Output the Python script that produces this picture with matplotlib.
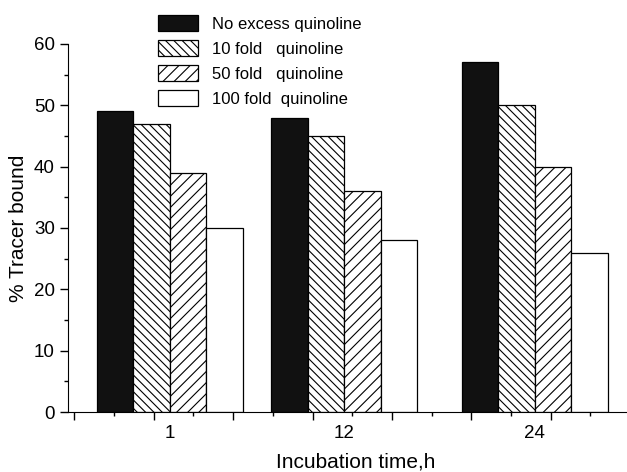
import numpy as np
import matplotlib
matplotlib.use("Agg")
from matplotlib import pyplot as plt
from matplotlib.ticker import MultipleLocator
import matplotlib.transforms as mtransforms

plt.rcParams['font.family'] = ['Liberation Sans', 'DejaVu Sans']
plt.rcParams['hatch.linewidth'] = 0.8

# data
times = [1, 12, 24]
series = ["No excess quinoline", "10 fold   quinoline",
          "50 fold   quinoline", "100 fold  quinoline"]
no_excess = [49, 48, 57]
fold10 = [47, 45, 50]
fold50 = [39, 36, 40]
fold100 = [30, 28, 26]

values = [no_excess, fold10, fold50, fold100]
faces = ['#111111', 'white', 'white', 'white']
hatches = [None, '\\\\\\\\', '///', None]

fig = plt.figure(figsize=(6.27, 4.72), dpi=100)
ax = fig.add_axes([0.1085, 0.127, 0.8915, 0.78])

w = 2.3
x = np.array(times, dtype=float)
handles = []
for i, vals in enumerate(values):
    b = ax.bar(x + (i - 1.5) * w, vals, width=w, color=faces[i],
               edgecolor='black', linewidth=0.9, hatch=hatches[i],
               label=series[i])
    handles.append(b)

ax.set_xlim(-5.4, 29.8)
ax.set_ylim(0, 60)

ax.spines['top'].set_visible(False)
ax.spines['right'].set_visible(False)

ax.yaxis.set_major_locator(MultipleLocator(10))
ax.yaxis.set_minor_locator(MultipleLocator(5))
ax.xaxis.set_major_locator(MultipleLocator(5))
ax.xaxis.set_minor_locator(MultipleLocator(2.5))
ax.tick_params(axis='both', which='major', direction='out', length=6, width=1, labelsize=13.5)
ax.tick_params(axis='both', which='minor', direction='out', length=3, width=1)
ax.set_xticklabels([])

trans = mtransforms.blended_transform_factory(ax.transData, fig.transFigure)
for t in times:
    ax.text(t, 1 - 433 / 472, str(t), transform=trans, ha='center', va='center', fontsize=13.5)

fig.text(356 / 627, 1 - 462 / 472, "Incubation time,h", ha='center', va='center', fontsize=15)
ax.set_ylabel("% Tracer bound", fontsize=15, labelpad=4)

fig.legend(handles=handles, loc='upper left', bbox_to_anchor=(0.228, 0.999),
           frameon=False, fontsize=12, handlelength=2.4, handleheight=1.08,
           labelspacing=0.5, handletextpad=0.85)

fig.savefig("out.png", dpi=100)
